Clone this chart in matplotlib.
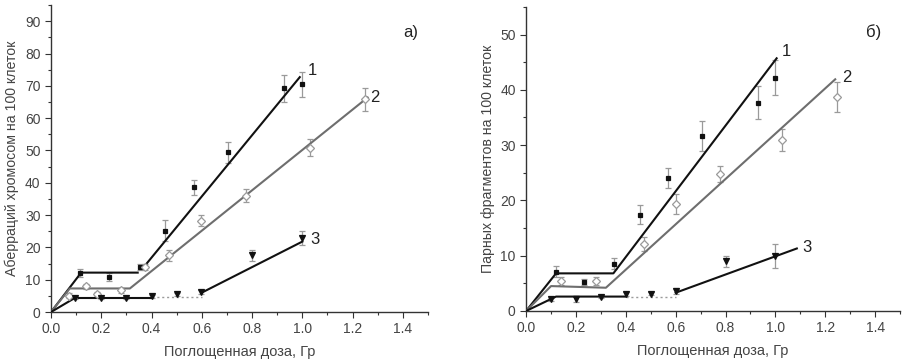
import numpy as np
import matplotlib.pyplot as plt
from matplotlib.ticker import MultipleLocator

plt.rcParams["font.family"] = ["Liberation Sans", "DejaVu Sans"]

# ---- panel a) aberrations per 100 cells
a_x1 = [0.115, 0.232, 0.354, 0.453, 0.568, 0.705, 0.927, 0.999]
a_y1 = [12.0, 10.8, 13.9, 25.2, 38.6, 49.4, 69.2, 70.5]
a_e1 = [1.2, 1.2, 1.0, 3.3, 2.3, 3.3, 4.2, 3.8]

a_x2 = [0.072, 0.139, 0.185, 0.278, 0.376, 0.469, 0.597, 0.777, 1.029, 1.25]
a_y2 = [5.1, 8.0, 5.5, 6.7, 13.9, 17.5, 28.3, 36.0, 50.9, 65.8]
a_e2 = [0.8, 0.8, 0.6, 0.8, 1.0, 1.8, 1.8, 2.0, 2.5, 3.5]

a_x3 = [0.095, 0.2, 0.298, 0.4, 0.5, 0.597, 0.8, 1.0]
a_y3 = [4.3, 4.3, 4.4, 4.9, 5.5, 6.2, 17.5, 22.9]
a_e3 = [0.4, 0.4, 0.4, 0.5, 0.5, 0.6, 1.8, 2.3]

# fitted segments (x, y)
a_fit1 = [([0, 0.12, 0.345], [0, 12.2, 12.2]), ([0.37, 0.99], [14.0, 72.7])]
a_fit2 = [([0, 0.075, 0.314, 1.26], [0, 7.3, 7.3, 66.4])]
a_fit3 = [([0, 0.1], [0, 4.6]), ([0.11, 0.4], [4.2, 4.2]), ([0.6, 1.0], [6.0, 21.8])]
a_dot3 = ([0.4, 0.6], [4.7, 4.7])

# ---- panel b) paired fragments per 100 cells
b_x1 = [0.12, 0.234, 0.354, 0.455, 0.568, 0.706, 0.929, 0.999]
b_y1 = [7.06, 5.25, 8.56, 17.4, 24.1, 31.7, 37.7, 42.2]
b_e1 = [1.0, 0.6, 1.0, 1.7, 1.8, 2.7, 3.0, 3.2]

b_x2 = [0.14, 0.281, 0.471, 0.602, 0.778, 1.028, 1.249]
b_y2 = [5.4, 5.4, 12.1, 19.4, 24.8, 30.9, 38.7]
b_e2 = [0.7, 0.7, 1.3, 1.8, 1.4, 2.0, 2.8]

b_x3 = [0.1, 0.2, 0.3, 0.4, 0.5, 0.6, 0.8, 1.0]
b_y3 = [2.1, 2.2, 2.6, 3.1, 3.1, 3.6, 9.0, 9.9]
b_e3 = [0.3, 0.5, 0.3, 0.4, 0.3, 0.6, 1.0, 2.2]

b_fit1 = [([0, 0.12, 0.35, 1.005], [0, 6.8, 6.8, 45.7])]
b_fit2 = [([0, 0.1, 0.32, 1.24], [0, 4.5, 4.2, 41.9])]
b_fit3 = [([0, 0.12, 0.4], [0, 2.6, 2.6]), ([0.6, 1.086], [3.3, 11.3])]
b_dot3 = ([0.4, 0.6], [2.6, 2.6])

DARK = "#111111"
GRAY = "#6e6e6e"
ERR = "#9a9a9a"
TXT = "#444444"


def draw(ax, pts, fits, dots, labels, tag, ylabel, ymax, ymajor, yminor):
    # error bars first, all in light gray
    for (x, y, e), mk, fc, ec, ms in zip(pts,
                                         ["s", "D", "v"],
                                         [DARK, "white", DARK],
                                         [DARK, "#9a9a9a", DARK],
                                         [2.8, 3.8, 3.8]):
        ax.errorbar(x, y, yerr=e, fmt="none", ecolor=ERR, elinewidth=0.9,
                    capsize=2.5, capthick=0.9, zorder=2)
        ax.plot(x, y, mk, ms=ms, mfc=fc, mec=ec, mew=0.9, ls="none", zorder=4)
    for (segs, col) in zip(fits, [DARK, GRAY, DARK]):
        for sx, sy in segs:
            ax.plot(sx, sy, color=col, lw=1.5, zorder=3)
    ax.plot(dots[0], dots[1], color="#9a9a9a", lw=1, ls=(0, (1.5, 2)), zorder=3)
    for txt, (lx, ly) in labels:
        ax.text(lx, ly, txt, fontsize=12, color="#222222", ha="center", va="center")
    ax.text(tag[1][0], tag[1][1], tag[0], fontsize=12, color="#222222",
            ha="center", va="center")

    ax.set_xlim(0, 1.5)
    ax.set_ylim(0, ymax)
    ax.xaxis.set_major_locator(MultipleLocator(0.2))
    ax.xaxis.set_minor_locator(MultipleLocator(0.1))
    ax.yaxis.set_major_locator(MultipleLocator(ymajor))
    ax.yaxis.set_minor_locator(MultipleLocator(yminor))
    ax.spines["top"].set_visible(False)
    ax.spines["right"].set_visible(False)
    for s in ("left", "bottom"):
        ax.spines[s].set_color("#333333")
        ax.spines[s].set_linewidth(1.0)
    ax.tick_params(which="major", direction="out", length=4, width=0.8,
                   colors="#333333", labelcolor=TXT, labelsize=10)
    ax.tick_params(which="minor", direction="out", length=2.5, width=0.8,
                   colors="#333333")
    ax.set_xticks(np.arange(0, 1.41, 0.2))
    ax.set_xticklabels([f"{v:.1f}" for v in np.arange(0, 1.41, 0.2)])
    ax.set_xlabel("Поглощенная доза, Гр", fontsize=10.5, color=TXT, labelpad=6)
    ax.set_ylabel(ylabel, fontsize=10.2, color=TXT, labelpad=4)


fig = plt.figure(figsize=(9.04, 3.62), dpi=100)
ax1 = fig.add_axes([0.0564, 0.138, 0.417, 0.848])
ax2 = fig.add_axes([0.582, 0.141, 0.4136, 0.840])

draw(ax1,
     [(a_x1, a_y1, a_e1), (a_x2, a_y2, a_e2), (a_x3, a_y3, a_e3)],
     [a_fit1, a_fit2, a_fit3], a_dot3,
     [("1", (1.04, 74.6)), ("2", (1.29, 66.4)), ("3", (1.05, 22.3))],
     ("а)", (1.43, 86.4)),
     "Аберраций хромосом на 100 клеток", 95, 10, 5)
ax1.set_yticks(np.arange(0, 91, 10))

draw(ax2,
     [(b_x1, b_y1, b_e1), (b_x2, b_y2, b_e2), (b_x3, b_y3, b_e3)],
     [b_fit1, b_fit2, b_fit3], b_dot3,
     [("1", (1.046, 46.9)), ("2", (1.286, 42.2)), ("3", (1.126, 11.5))],
     ("б)", (1.393, 50.5)),
     "Парных фрагментов на 100 клеток", 55, 10, 5)
ax2.set_yticks(np.arange(0, 51, 10))

fig.savefig("out.png", dpi=100)
